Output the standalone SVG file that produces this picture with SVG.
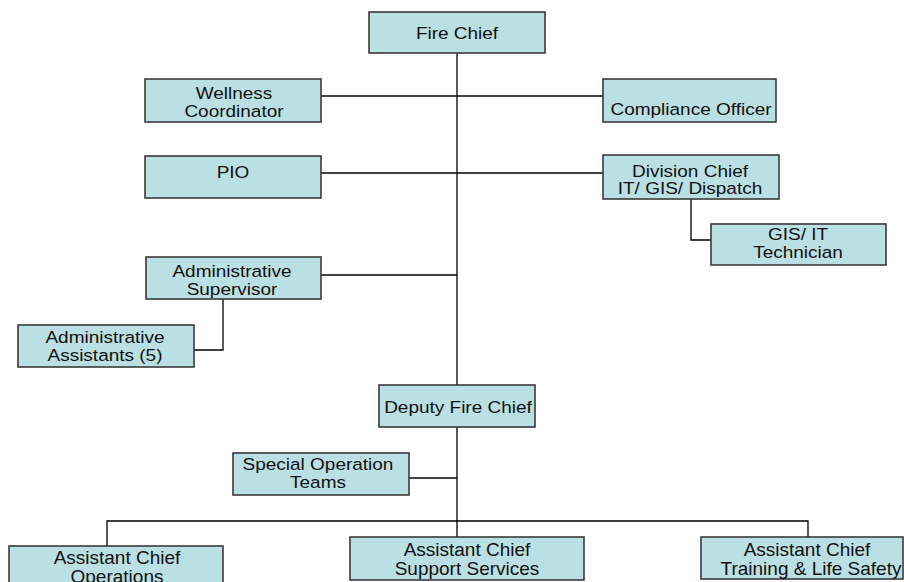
<svg xmlns="http://www.w3.org/2000/svg" width="904" height="582" viewBox="0 0 904 582">
<style>
.box{fill:#bbe0e3;stroke:#3a3a3a;stroke-width:1.6}
.t{font-family:"Liberation Sans",Arial,sans-serif;font-size:19px;fill:#111;text-anchor:middle}
.c{fill:none;stroke:#000;stroke-width:1.3}
</style>
<rect width="904" height="582" fill="#fff"/>
<g id="connectors">
<line class="c" x1="457" y1="53" x2="457" y2="385"/>
<line class="c" x1="321" y1="96" x2="603" y2="96"/>
<line class="c" x1="321" y1="173" x2="603" y2="173"/>
<polyline class="c" points="691,199 691,240 711,240"/>
<line class="c" x1="321" y1="275" x2="457" y2="275"/>
<polyline class="c" points="223,299 223,350 194,350"/>
<line class="c" x1="457" y1="427" x2="457" y2="537"/>
<line class="c" x1="409" y1="478" x2="457" y2="478"/>
<polyline class="c" points="107,546 107,521 808,521 808,537"/>
</g>
<g id="fire-chief"><rect class="box" x="369" y="12" width="176" height="41"/><text class="t" transform="translate(457,39) scale(1,0.88)">Fire Chief</text></g>
<g id="wellness"><rect class="box" x="145" y="79" width="176" height="43"/><text class="t" transform="translate(234,99) scale(1,0.88)"><tspan x="0">Wellness</tspan><tspan x="0" dy="21">Coordinator</tspan></text></g>
<g id="compliance"><rect class="box" x="603" y="79" width="173" height="43"/><text class="t" transform="translate(691,115) scale(1,0.88)">Compliance Officer</text></g>
<g id="pio"><rect class="box" x="145" y="156" width="176" height="42"/><text class="t" transform="translate(233,178) scale(1,0.88)">PIO</text></g>
<g id="division-chief"><rect class="box" x="603" y="155" width="176" height="44"/><text class="t" transform="translate(690,176.5) scale(1,0.88)"><tspan x="0">Division Chief</tspan><tspan x="0" dy="20">IT/ GIS/ Dispatch</tspan></text></g>
<g id="gis-tech"><rect class="box" x="711" y="224" width="175" height="41"/><text class="t" transform="translate(798,240) scale(1,0.88)"><tspan x="0">GIS/ IT</tspan><tspan x="0" dy="21">Technician</tspan></text></g>
<g id="admin-supervisor"><rect class="box" x="146" y="257" width="175" height="42"/><text class="t" transform="translate(232,277) scale(1,0.88)"><tspan x="0">Administrative</tspan><tspan x="0" dy="21">Supervisor</tspan></text></g>
<g id="admin-assistants"><rect class="box" x="18" y="325" width="176" height="42"/><text class="t" transform="translate(105,343) scale(1,0.88)"><tspan x="0">Administrative</tspan><tspan x="0" dy="21">Assistants (5)</tspan></text></g>
<g id="deputy"><rect class="box" x="379" y="385" width="156" height="42"/><text class="t" transform="translate(458,413) scale(1,0.88)">Deputy Fire Chief</text></g>
<g id="special-ops"><rect class="box" x="233" y="453" width="176" height="42"/><text class="t" transform="translate(318,470) scale(1,0.88)"><tspan x="0">Special Operation</tspan><tspan x="0" dy="21">Teams</tspan></text></g>
<g id="ac-operations"><rect class="box" x="9" y="546" width="214" height="50"/><text class="t" x="117" y="564">Assistant Chief<tspan x="117" dy="19">Operations</tspan></text></g>
<g id="ac-support"><rect class="box" x="350" y="537" width="234" height="43"/><text class="t" x="467" y="556">Assistant Chief<tspan x="467" dy="19">Support Services</tspan></text></g>
<g id="ac-training"><rect class="box" x="701" y="537" width="202" height="42"/><text class="t" x="807" y="556">Assistant Chief<tspan x="811" dy="19">Training &amp; Life Safety</tspan></text></g>
</svg>
